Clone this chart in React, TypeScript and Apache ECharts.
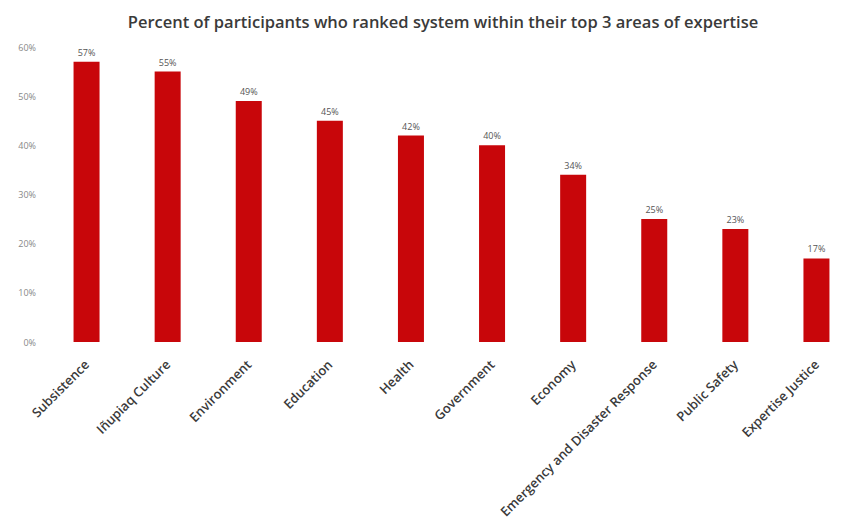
import React, { useEffect, useRef } from "react";
import * as echarts from "echarts";

const categories = [
  "Subsistence",
  "Iñupiaq Culture",
  "Environment",
  "Education",
  "Health",
  "Government",
  "Economy",
  "Emergency and Disaster Response",
  "Public Safety",
  "Expertise Justice",
];
const values = [57, 55, 49, 45, 42, 40, 34, 25, 23, 17];
const yTicks = [0, 10, 20, 30, 40, 50, 60];

export default function App() {
  const ref = useRef<HTMLDivElement>(null);
  useEffect(() => {
    if (!ref.current) return;
    const chart = echarts.init(ref.current, null, { renderer: "svg" });
    chart.setOption({
      animation: false,
      backgroundColor: "#ffffff",
      title: {
        text: "Percent of participants who ranked system within their top 3 areas of expertise",
        left: 438,
        textAlign: "center",
        top: 8,
        textStyle: {
          fontFamily: "Open Sans",
          fontWeight: 600,
          fontSize: 16.5,
          color: "#3a3a3a",
        },
      },
      grid: { left: 46, right: 8, top: 47, bottom: 188 },
      xAxis: {
        type: "category",
        data: categories,
        axisLine: { show: false },
        axisTick: { show: false },
        axisLabel: {
          rotate: 45,
          interval: 0,
          margin: 20,
          fontFamily: "Open Sans",
          fontWeight: 600,
          fontSize: 13,
          color: "#3a3a3a",
        },
      },
      yAxis: {
        type: "value",
        min: 0,
        max: 60,
        interval: 10,
        splitLine: { show: false },
        axisLine: { show: false },
        axisTick: { show: false },
        axisLabel: {
          formatter: (v: number) => (yTicks.includes(v) ? v + "%" : ""),
          fontFamily: "Open Sans",
          fontSize: 9,
          color: "#888",
          margin: 10,
        },
      },
      series: [
        {
          type: "bar",
          data: values,
          barWidth: 26,
          itemStyle: { color: "#c8060a" },
          label: {
            show: true,
            position: "top",
            distance: 5,
            formatter: (p: any) => p.value + "%",
            fontFamily: "Open Sans",
            fontSize: 9,
            color: "#555",
          },
        },
      ],
    });
    return () => chart.dispose();
  }, []);
  return <div ref={ref} style={{ width: 865, height: 530, marginLeft: -8, marginTop: -8 }} />;
}
